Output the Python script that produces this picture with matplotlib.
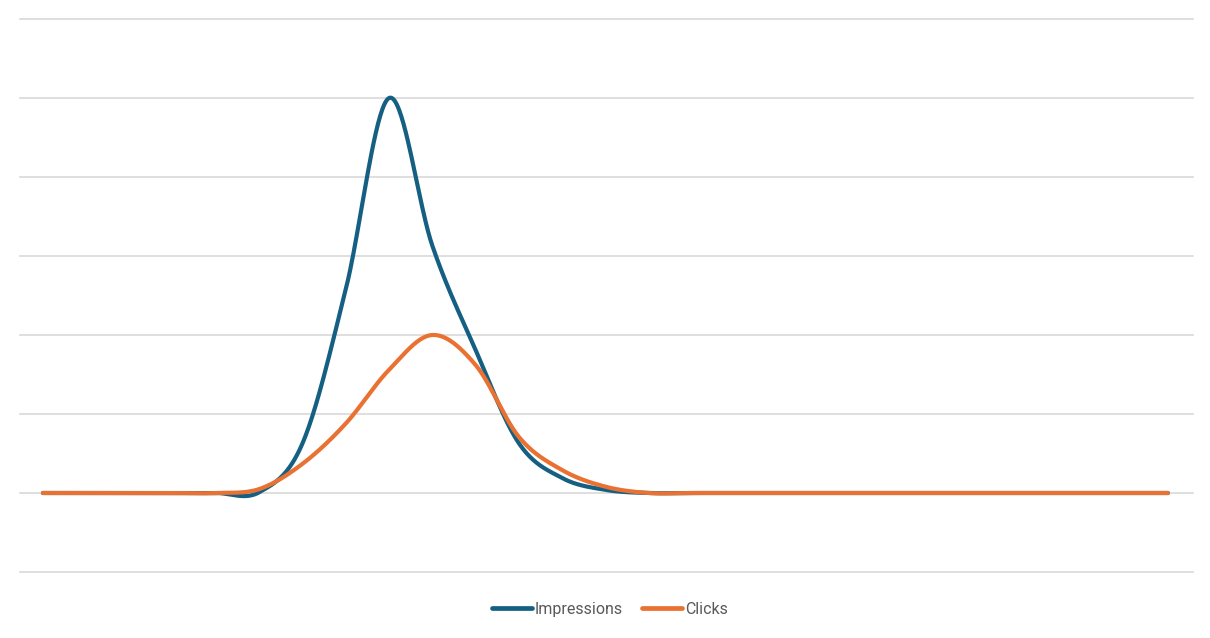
import numpy as np
import matplotlib
matplotlib.use("Agg")
import matplotlib.pyplot as plt

# Data (27 categories, unlabeled)
categories = list(range(27))
impressions = [0, 0, 0, 0, 0, 0.01, 0.63, 2.58, 5.0, 3.13, 1.81, 0.63, 0.19, 0.04,
               0, 0, 0, 0, 0, 0, 0, 0, 0, 0, 0, 0, 0]
clicks = [0, 0, 0, 0, 0, 0.05, 0.37, 0.88, 1.56, 2.0, 1.62, 0.71, 0.29, 0.08,
          0, 0, 0, 0, 0, 0, 0, 0, 0, 0, 0, 0, 0]
series_names = ["Impressions", "Clicks"]
colors = ["#156082", "#E97132"]


def smooth(x, y, n=40):
    """Excel-like smoothed line (Catmull-Rom as cubic Bezier through points)."""
    x = np.asarray(x, float)
    y = np.asarray(y, float)
    px = np.concatenate([[x[0]], x, [x[-1]]])
    py = np.concatenate([[y[0]], y, [y[-1]]])
    t = np.linspace(0, 1, n)[:, None]
    out = []
    for i in range(len(x) - 1):
        p0 = np.array([px[i], py[i]])
        p1 = np.array([px[i + 1], py[i + 1]])
        p2 = np.array([px[i + 2], py[i + 2]])
        p3 = np.array([px[i + 3], py[i + 3]])
        c1 = p1 + (p2 - p0) / 6.0
        c2 = p2 - (p3 - p1) / 6.0
        b = (1 - t) ** 3 * p1 + 3 * (1 - t) ** 2 * t * c1 + 3 * (1 - t) * t ** 2 * c2 + t ** 3 * p2
        out.append(b)
    return np.vstack(out)


fig = plt.figure(figsize=(12.1, 6.38), dpi=100)
W, H = 1210, 638
ax = fig.add_axes([20 / W, (H - 572) / H, (1193 - 20) / W, (572 - 19) / H])
ax.set_xlim(-0.53, 26.58)
ax.set_ylim(-1, 6)

for name, vals, c in zip(series_names, [impressions, clicks], colors):
    sm = smooth(categories, vals)
    ax.plot(sm[:, 0], sm[:, 1], color=c, lw=3.0, solid_capstyle="round",
            solid_joinstyle="round", label=name, zorder=3)

ax.set_yticks(range(-1, 7))
ax.set_xticks([])
ax.grid(axis="y", color="#d9d9d9", lw=1.2)
for gl in ax.get_ygridlines():
    gl.set_clip_on(False)
ax.tick_params(left=False, labelleft=False, bottom=False, labelbottom=False)
for s in ax.spines.values():
    s.set_visible(False)

leg = fig.legend(loc="center", bbox_to_anchor=(610 / W, 1 - 609.5 / H), ncol=2,
                 frameon=False, prop={"family": "Roboto", "size": 11.5},
                 handlelength=2.5, handletextpad=0.2, columnspacing=1.2,
                 labelcolor="#595959")
for line in leg.get_lines():
    line.set_linewidth(3.4)

fig.savefig("out.png", dpi=100)
